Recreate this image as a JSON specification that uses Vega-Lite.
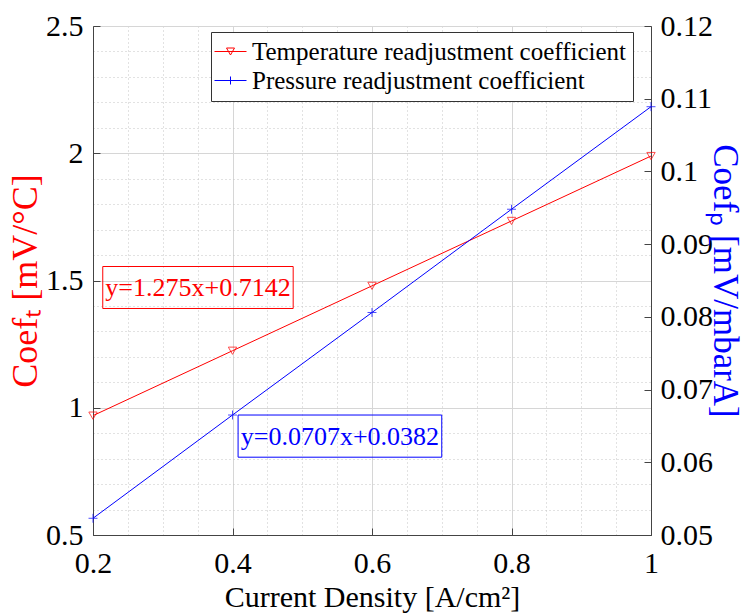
{
  "$schema": "https://vega.github.io/schema/vega-lite/v6.json",
  "width": 558,
  "height": 509,
  "autosize": "none",
  "padding": {"left": 93, "top": 26, "right": 101, "bottom": 80},
  "background": "white",
  "config": {
    "view": {"stroke": "#444", "strokeWidth": 1},
    "font": "Liberation Serif",
    "axis": {
      "labelFont": "Liberation Serif",
      "labelFontSize": 30,
      "labelColor": "#000",
      "titleFont": "Liberation Serif",
      "titleFontSize": 30,
      "titleFontWeight": "normal",
      "domainColor": "#444",
      "tickColor": "#444",
      "labelOverlap": false,
      "labelFlush": false
    },
    "legend": {
      "labelFont": "Liberation Serif",
      "labelFontSize": 25,
      "labelColor": "#000",
      "labelLimit": 0
    }
  },
  "data": {
    "values": [
      {"density": 0.2, "coef": 0.969, "series": "Temperature readjustment coefficient"},
      {"density": 0.4, "coef": 1.224, "series": "Temperature readjustment coefficient"},
      {"density": 0.6, "coef": 1.479, "series": "Temperature readjustment coefficient"},
      {"density": 0.8, "coef": 1.734, "series": "Temperature readjustment coefficient"},
      {"density": 1.0, "coef": 1.989, "series": "Temperature readjustment coefficient"},
      {"density": 0.2, "coef": 0.0523, "series": "Pressure readjustment coefficient"},
      {"density": 0.4, "coef": 0.0665, "series": "Pressure readjustment coefficient"},
      {"density": 0.6, "coef": 0.0806, "series": "Pressure readjustment coefficient"},
      {"density": 0.8, "coef": 0.0948, "series": "Pressure readjustment coefficient"},
      {"density": 1.0, "coef": 0.1089, "series": "Pressure readjustment coefficient"}
    ]
  },
  "layer": [
    {
      "transform": [{"filter": "datum.series == 'Temperature readjustment coefficient'"}],
      "mark": {"type": "point", "shape": "triangle-down", "filled": false, "size": 70, "strokeWidth": 1, "clip": false},
      "encoding": {
        "x": {
          "field": "density", "type": "quantitative",
          "scale": {"domain": [0.2, 1.0], "nice": false, "zero": false},
          "axis": {
            "orient": "top",
            "title": null,
            "values": [0.25, 0.3, 0.35, 0.45, 0.5, 0.55, 0.65, 0.7, 0.75, 0.85, 0.9, 0.95],
            "labels": false,
            "ticks": false,
            "domain": false,
            "grid": true,
            "gridDash": [1, 3],
            "gridColor": "#c4c4c4"
          }
        },
        "y": {
          "field": "coef", "type": "quantitative",
          "scale": {"domain": [0.5, 2.5], "nice": false, "zero": false},
          "axis": {
            "orient": "left",
            "title": null,
            "values": [0.6, 0.7, 0.8, 0.9, 1.1, 1.2, 1.3, 1.4, 1.6, 1.7, 1.8, 1.9, 2.1, 2.2, 2.3, 2.4],
            "labels": false,
            "ticks": false,
            "domain": false,
            "grid": true,
            "gridDash": [1, 3],
            "gridColor": "#c4c4c4"
          }
        },
        "color": {"field": "series", "type": "nominal"}
      }
    },
    {
      "layer": [
        {
          "transform": [{"filter": "datum.series == 'Temperature readjustment coefficient'"}],
          "mark": {"type": "line", "strokeWidth": 1, "clip": false},
          "encoding": {
            "x": {
              "field": "density", "type": "quantitative",
              "axis": {
                "orient": "bottom",
                "title": "Current Density [A/cm²]",
                "values": [0.2, 0.4, 0.6, 0.8, 1.0],
                "labelExpr": "format(datum.value, '.1~f')",
                "tickSize": -7,
                "grid": true,
                "gridColor": "#d6d6d6",
                "labelOverlap": false,
                "labelPadding": 20,
                "titlePadding": 4
              }
            },
            "y": {
              "field": "coef", "type": "quantitative",
              "scale": {"domain": [0.5, 2.5], "nice": false, "zero": false},
              "axis": {
                "orient": "left",
                "title": "Coefₜ [mV/°C]",
                "titleColor": "#ff0000",
                "titleFontSize": 36,
                "values": [0.5, 1.0, 1.5, 2.0, 2.5],
                "labelExpr": "format(datum.value, '.1~f')",
                "tickSize": -7,
                "grid": true,
                "gridColor": "#d6d6d6",
                "labelOverlap": false,
                "labelPadding": 17,
                "titlePadding": 1
              }
            },
            "color": {
              "field": "series", "type": "nominal",
              "scale": {"domain": ["Temperature readjustment coefficient", "Pressure readjustment coefficient"], "range": ["#ff0000", "#0000ff"]},
              "legend": {
                "title": null,
                "orient": "none",
                "legendX": 118,
                "legendY": 6,
                "padding": 7,
                "fillColor": "white",
                "strokeColor": "#333",
                "symbolSize": 400,
                "rowPadding": 3,
                "labelOffset": 9,
                "labelLimit": 0,
                "symbolStrokeWidth": 1,
                "encode": {
                  "symbols": {
                    "update": {
                      "shape": {"signal": "datum.value == 'Temperature readjustment coefficient' ? 'M-1.6,0H1.6M-0.4,-0.35H0.4L0,0.35Z' : 'M-1.6,0H1.6M0,-0.4V0.4'"},
                      "fill": {"value": "transparent"},
                      "size": {"value": 400},
                      "strokeWidth": {"value": 1},
                      "opacity": {"value": 1}
                    }
                  }
                }
              }
            }
          }
        },
        {
          "data": {"values": [{"label": "y=1.275x+0.7142"}]},
          "mark": {"type": "rect", "fill": null, "stroke": "#ff0000", "strokeWidth": 1},
          "encoding": {
            "x": {"datum": 0.214, "type": "quantitative"},
            "x2": {"datum": 0.487},
            "y": {"datum": 1.555, "type": "quantitative"},
            "y2": {"datum": 1.39}
          }
        },
        {
          "data": {"values": [{"label": "y=1.275x+0.7142"}]},
          "mark": {"type": "text", "font": "Liberation Serif", "fontSize": 26, "color": "#ff0000", "align": "center", "baseline": "middle"},
          "encoding": {
            "x": {"datum": 0.3505, "type": "quantitative"},
            "y": {"datum": 1.47, "type": "quantitative"},
            "text": {"field": "label"}
          }
        }
      ]
    },
    {
      "layer": [
        {
          "transform": [{"filter": "datum.series == 'Pressure readjustment coefficient'"}],
          "mark": {"type": "line", "strokeWidth": 1, "clip": false},
          "encoding": {
            "x": {"field": "density", "type": "quantitative", "axis": null},
            "y": {
              "field": "coef", "type": "quantitative",
              "scale": {"domain": [0.05, 0.12], "nice": false, "zero": false},
              "axis": {
                "orient": "right",
                "title": "Coefₚ [mV/mbarA]",
                "titleColor": "#0000ff",
                "titleFontSize": 35,
                "values": [0.05, 0.06, 0.07, 0.08, 0.09, 0.1, 0.11, 0.12],
                "labelExpr": "format(datum.value, '.2~f')",
                "tickSize": -7,
                "grid": false,
                "labelOverlap": false,
                "labelPadding": 16,
                "titlePadding": -6
              }
            },
            "color": {"field": "series", "type": "nominal"}
          }
        },
        {
          "transform": [{"filter": "datum.series == 'Pressure readjustment coefficient'"}],
          "mark": {"type": "point", "shape": "M-1,0H1M0,-1V1", "filled": false, "size": 80, "strokeWidth": 1, "clip": false},
          "encoding": {
            "x": {"field": "density", "type": "quantitative", "axis": null},
            "y": {"field": "coef", "type": "quantitative"},
            "color": {"field": "series", "type": "nominal"}
          }
        },
        {
          "data": {"values": [{"label": "y=0.0707x+0.0382"}]},
          "mark": {"type": "rect", "fill": null, "stroke": "#0000ff", "strokeWidth": 1},
          "encoding": {
            "x": {"datum": 0.408, "type": "quantitative", "axis": null},
            "x2": {"datum": 0.7},
            "y": {"datum": 0.0665, "type": "quantitative"},
            "y2": {"datum": 0.0607}
          }
        },
        {
          "data": {"values": [{"label": "y=0.0707x+0.0382"}]},
          "mark": {"type": "text", "font": "Liberation Serif", "fontSize": 26, "color": "#0000ff", "align": "center", "baseline": "middle"},
          "encoding": {
            "x": {"datum": 0.554, "type": "quantitative", "axis": null},
            "y": {"datum": 0.0635, "type": "quantitative"},
            "text": {"field": "label"}
          }
        }
      ]
    }
  ],
  "resolve": {"scale": {"y": "independent"}, "axis": {"x": "independent"}}
}
